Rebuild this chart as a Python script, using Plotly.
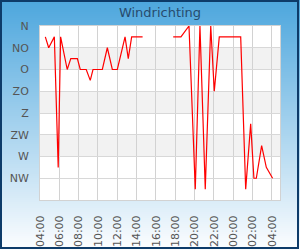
import plotly.graph_objects as go

# ---- data ----
times = [
    "2024-01-01 04:33", "2024-01-01 04:54", "2024-01-01 05:29", "2024-01-01 05:53",
    "2024-01-01 06:08", "2024-01-01 06:49", "2024-01-01 07:11", "2024-01-01 07:52",
    "2024-01-01 08:10", "2024-01-01 08:47", "2024-01-01 09:12", "2024-01-01 09:29",
    "2024-01-01 10:27", "2024-01-01 10:58", "2024-01-01 11:29", "2024-01-01 12:00",
    "2024-01-01 12:48", "2024-01-01 13:08", "2024-01-01 13:29", "2024-01-01 14:37",
    "2024-01-01 16:00",
    "2024-01-01 17:47", "2024-01-01 18:35", "2024-01-01 19:25", "2024-01-01 20:04",
    "2024-01-01 20:33", "2024-01-01 21:06", "2024-01-01 21:40", "2024-01-01 22:02",
    "2024-01-01 22:33", "2024-01-02 00:46", "2024-01-02 01:17", "2024-01-02 01:48",
    "2024-01-02 02:08", "2024-01-02 02:23", "2024-01-02 02:56", "2024-01-02 03:25",
    "2024-01-02 04:04",
]
directions = [
    22.5, 45, 22.5, 292.5,
    22.5, 90, 67.5, 67.5,
    90, 90, 112.5, 90,
    90, 45, 90, 90,
    22.5, 67.5, 22.5, 22.5,
    None,
    22.5, 22.5, 0, 337.5,
    0, 337.5, 0, 135,
    22.5, 22.5, 337.5, 202.5,
    315, 315, 247.5, 292.5,
    315,
]
dir_ticks = [0, 45, 90, 135, 180, 225, 270, 315]
dir_labels = ["N", "NO", "O", "ZO", "Z", "ZW", "W", "NW"]
band_ranges = [(45, 90), (135, 180), (225, 270)]
x_ticks = [
    "2024-01-01 04:00", "2024-01-01 06:00", "2024-01-01 08:00", "2024-01-01 10:00",
    "2024-01-01 12:00", "2024-01-01 14:00", "2024-01-01 16:00", "2024-01-01 18:00",
    "2024-01-01 20:00", "2024-01-01 22:00", "2024-01-02 00:00", "2024-01-02 02:00",
    "2024-01-02 04:00",
]
x_range = ["2024-01-01 04:00", "2024-01-02 04:50"]
title_text = "Windrichting"

# ---- layout geometry ----
W, H = 300, 250
ML, MR, MT, MB = 40, 20, 26, 50
PW, PH = W - ML - MR, H - MT - MB


def px(x):
    return (x - ML) / PW


def py(y):
    return (H - MB - y) / PH


shapes = []
# background gradient strips
top = (76, 166, 221)
bot = (250, 252, 254)
step = 2
for y in range(0, H, step):
    t = min(1.0, (y + step / 2) / (H - 4))
    c = tuple(round(top[i] + (bot[i] - top[i]) * t) for i in range(3))
    shapes.append(dict(type="rect", xref="paper", yref="paper", layer="below",
                       x0=px(0), x1=px(W), y0=py(y), y1=py(y + step + 0.5),
                       line=dict(width=0), fillcolor="rgb(%d,%d,%d)" % c))
# plot area white
shapes.append(dict(type="rect", xref="paper", yref="paper", layer="below",
                   x0=0, x1=1, y0=0, y1=1, line=dict(width=0), fillcolor="white"))
# alternate bands
for a, b in band_ranges:
    shapes.append(dict(type="rect", xref="paper", yref="y", layer="below",
                       x0=0, x1=1, y0=a, y1=b, line=dict(width=0), fillcolor="#f2f2f2"))
# outer border
shapes.append(dict(type="rect", xref="paper", yref="paper", layer="above",
                   x0=px(1), x1=px(298), y0=py(1), y1=py(248),
                   line=dict(width=2, color="#0d3b69"), fillcolor="rgba(0,0,0,0)"))

fig = go.Figure()
fig.add_trace(go.Scatter(x=times, y=directions, mode="lines",
                         line=dict(color="#ff0000", width=1.2),
                         connectgaps=False, showlegend=False))

font_family = "DejaVu Sans"
fig.update_layout(
    width=W, height=H,
    margin=dict(l=ML, r=MR, t=MT, b=MB, pad=0, autoexpand=False),
    paper_bgcolor="white",
    plot_bgcolor="rgba(0,0,0,0)",
    shapes=shapes,
    showlegend=False,
    title=dict(text=title_text, x=0.5, xref="paper", xanchor="center",
               y=1 - 12 / H, yref="container", yanchor="middle",
               font=dict(family=font_family, size=13, color="#274b6d")),
    xaxis=dict(
        type="date", range=x_range, tickvals=x_ticks, tickformat="%H:%M",
        tickangle=-90, ticks="outside", ticklen=10, tickcolor="rgba(0,0,0,0)",
        tickfont=dict(family=font_family, size=11, color="#555555"),
        showgrid=True, gridcolor="#d2d2d2", gridwidth=1,
        showline=True, linecolor="#d2d2d2", linewidth=1, mirror=True,
        zeroline=False, automargin=False,
    ),
    yaxis=dict(
        range=[360, 0], tickvals=dir_ticks, ticktext=dir_labels,
        ticks="outside", ticklen=8, tickcolor="rgba(0,0,0,0)",
        tickfont=dict(family=font_family, size=11, color="#555555"),
        showgrid=True, gridcolor="#d8d8d8", gridwidth=1,
        showline=True, linecolor="#d2d2d2", linewidth=1, mirror=True,
        zeroline=False, automargin=False,
    ),
)

fig.write_html("out.html")
